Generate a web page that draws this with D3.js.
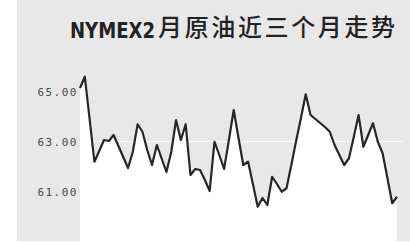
<!DOCTYPE html>
<html><head><meta charset="utf-8">
<script src="https://cdn.jsdelivr.net/npm/d3@7"></script>
<style>html,body{margin:0;padding:0;background:#fff;}svg{display:block;}</style>
</head><body>
<svg id="c" width="410" height="242"></svg>
<script>
const titleLatin = "NYMEX2";
const titleCJK = "月原油近三个月走势";
const yTicks = [61, 63, 65];
const yTickLabels = ["61.00", "63.00", "65.00"];
const gridTicks = [63];
// daily settlement prices over about three months (trading-day order)
const prices = [
  65.16, 65.61, 63.92, 62.21, 62.64, 63.08, 63.04, 63.28, 62.84, 62.40,
  61.96, 62.61, 63.71, 63.41, 62.68, 62.08, 62.88, 62.34, 61.80, 62.61,
  63.88, 63.08, 63.71, 61.68, 61.92, 61.88, 61.48, 61.04, 63.01, 62.48,
  61.92, 63.08, 64.28, 63.16, 62.08, 62.21, 61.32, 60.41, 60.76, 60.48,
  61.61, 61.32, 61.01, 61.15, 62.08, 63.04, 63.96, 64.91, 64.08, 63.92,
  63.76, 63.60, 63.41, 62.88, 62.48, 62.08, 62.35, 63.20, 64.08, 62.81,
  63.28, 63.75, 63.01, 62.55, 61.56, 60.55, 60.81
];

const svg = d3.select("#c");
const plot = {left: 80, right: 397, top: 0, bottom: 241};

svg.append("rect").attr("x", 17).attr("y", 0).attr("width", 393).attr("height", 241)
  .attr("fill", "#e8e8e8");

const x = d3.scaleLinear().domain([0, prices.length - 1]).range([plot.left, plot.right]);
const y = d3.scaleLinear().domain([59.04, 68.68]).range([plot.bottom, plot.top]);

const area = d3.area().x((d, i) => x(i)).y0(plot.bottom).y1(d => y(d));
svg.append("path").datum(prices).attr("d", area).attr("fill", "#ffffff");

svg.selectAll("line.grid").data(gridTicks).enter().append("line")
  .attr("class", "grid")
  .attr("x1", plot.left).attr("x2", 403)
  .attr("y1", d => Math.round(y(d)) - 0.5).attr("y2", d => Math.round(y(d)) - 0.5)
  .attr("stroke", "#ffffff").attr("stroke-width", 1).attr("opacity", 0.8);

const line = d3.line().x((d, i) => x(i)).y(d => y(d));
svg.append("path").datum(prices).attr("d", line)
  .attr("fill", "none").attr("stroke", "#262626").attr("stroke-width", 2.2)
  .attr("stroke-linejoin", "round");

const axis = d3.axisLeft(y).tickValues(yTicks)
  .tickFormat((d, i) => yTickLabels[i]).tickSize(0).tickPadding(0);
const g = svg.append("g").attr("transform", `translate(${plot.left - 2},0)`).call(axis);
g.select(".domain").remove();
g.selectAll("text")
  .attr("font-family", "'DejaVu Sans Mono', monospace")
  .attr("font-size", 11).attr("fill", "#4a4a4a").attr("letter-spacing", 1.5)
  .attr("dy", "0.35em");

// title
svg.append("text").attr("x", 70).attr("y", 38)
  .attr("font-family", "'DejaVu Sans Condensed', 'DejaVu Sans', sans-serif")
  .attr("font-size", 21).attr("font-weight", 700).attr("fill", "#222")
  .attr("textLength", 85).attr("lengthAdjust", "spacingAndGlyphs")
  .text(titleLatin);
svg.append("text").attr("x", 158).attr("y", 36)
  .attr("font-family", "'Noto Sans CJK SC', sans-serif")
  .attr("font-size", 24).attr("font-weight", 500).attr("fill", "#222")
  .attr("textLength", 237).attr("lengthAdjust", "spacing")
  .text(titleCJK);
</script>
</body></html>
